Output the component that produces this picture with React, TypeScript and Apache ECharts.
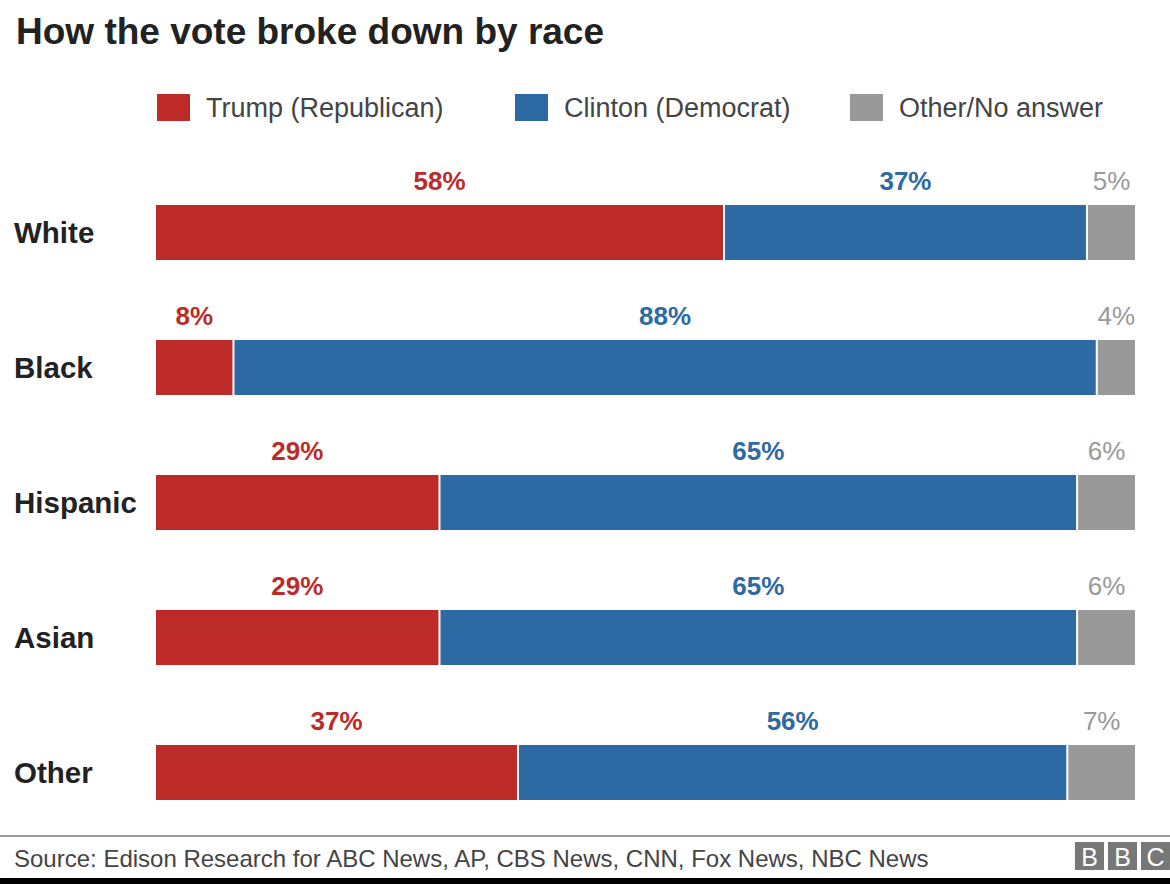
import React, { useEffect, useRef } from "react";
import * as echarts from "echarts";

const categories = ["White", "Black", "Hispanic", "Asian", "Other"];
const trump = [58, 8, 29, 29, 37];
const clinton = [37, 88, 65, 65, 56];
const other = [5, 4, 6, 6, 7];
const seriesNames = ["Trump (Republican)", "Clinton (Democrat)", "Other/No answer"];
const title = "How the vote broke down by race";
const source = "Source: Edison Research for ABC News, AP, CBS News, CNN, Fox News, NBC News";
const logoLetters = ["B", "B", "C"];

const RED = "#bc2b27";
const BLUE = "#2d69a3";
const GREY = "#999999";
const FONT = "Liberation Sans, Arial, sans-serif";

export default function App() {
  const ref = useRef<HTMLDivElement>(null);
  useEffect(() => {
    document.body.style.margin = "0";
    const chart = echarts.init(ref.current!, null, { renderer: "svg" });
    const mk = (name: string, data: number[], color: string, labelColor: string, bold: boolean) => ({
      name,
      type: "bar",
      stack: "total",
      data,
      barWidth: 57,
      itemStyle: { color, borderColor: "#ffffff", borderWidth: 1 },
      label: {
        show: true,
        position: "top",
        distance: 10,
        formatter: "{c}%",
        color: labelColor,
        fontSize: 26,
        fontWeight: bold ? "bold" : "normal",
        fontFamily: FONT,
      },
    });
    const legendLefts = [155, 513, 848];
    chart.setOption({
      animation: false,
      textStyle: { fontFamily: FONT },
      title: {
        text: title,
        left: 11,
        top: 8,
        textStyle: { fontSize: 37, fontWeight: "bold", color: "#222", fontFamily: FONT },
      },
      legend: seriesNames.map((n, i) => ({
        top: 92,
        left: legendLefts[i],
        padding: 0,
        itemWidth: 35,
        itemHeight: 29,
        icon: "rect",
        textStyle: { fontSize: 27, color: "#444", fontFamily: FONT, padding: [0, 0, 0, 10] },
        data: [n],
      })),
      grid: { left: 155, right: 34, top: 165, bottom: 44 },
      xAxis: { type: "value", min: 0, max: 100, show: false },
      yAxis: {
        type: "category",
        data: categories,
        inverse: true,
        axisLine: { show: false },
        axisTick: { show: false },
        axisLabel: {
          align: "left",
          margin: 141,
          fontSize: 29.5,
          fontWeight: "bold",
          color: "#222",
          fontFamily: FONT,
          padding: [0, 0, 8, 0],
        },
      },
      series: [
        mk(seriesNames[0], trump, RED, RED, true),
        mk(seriesNames[1], clinton, BLUE, BLUE, true),
        mk(seriesNames[2], other, GREY, GREY, false),
      ],
      graphic: [
        { type: "line", shape: { x1: 0, y1: 836, x2: 1170, y2: 836 }, style: { stroke: "#999", lineWidth: 2 } },
        {
          type: "text",
          x: 14,
          y: 858,
          style: { text: source, fontSize: 24, fill: "#444", fontFamily: FONT, verticalAlign: "middle" },
        },
        ...logoLetters.flatMap((ch, i) => [
          { type: "rect", shape: { x: 1075 + i * 33, y: 842, width: 29, height: 28 }, style: { fill: "#777777" } },
          {
            type: "text",
            x: 1075 + i * 33 + 14.5,
            y: 856.5,
            style: { text: ch, fontSize: 25, fill: "#fff", align: "center", verticalAlign: "middle", fontFamily: FONT },
          },
        ]),
        { type: "rect", shape: { x: 0, y: 878, width: 1170, height: 6 }, style: { fill: "#000" } },
      ],
    });
    return () => chart.dispose();
  }, []);
  return <div ref={ref} style={{ width: 1170, height: 884 }} />;
}
